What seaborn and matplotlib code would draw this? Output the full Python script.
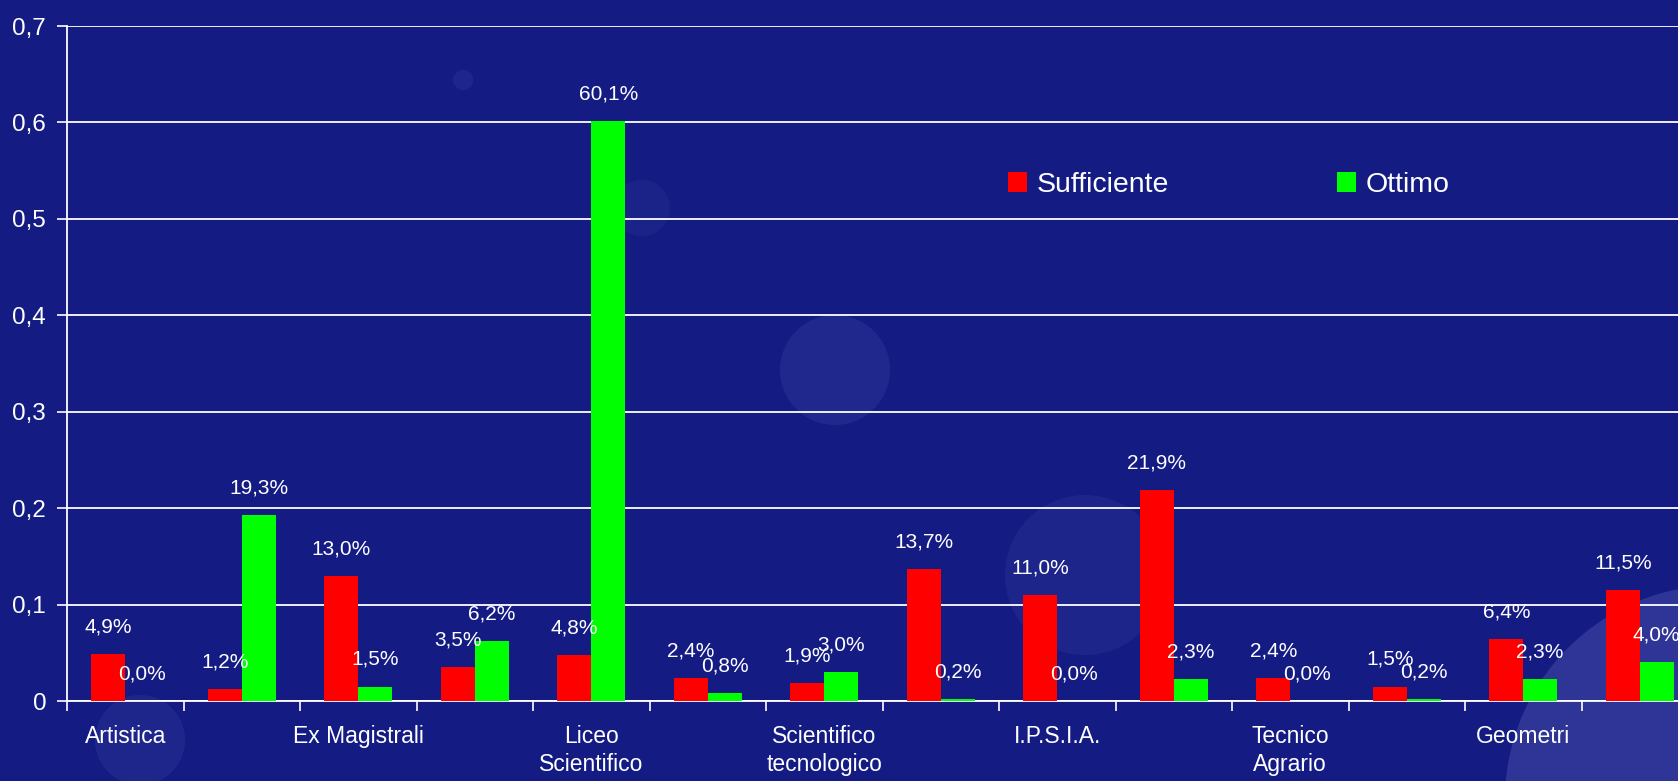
import matplotlib
matplotlib.use("Agg")
import matplotlib.pyplot as plt
import seaborn as sns
import pandas as pd
from matplotlib.patches import Ellipse, Patch

# ---------------- data ----------------
categories = ["Artistica", "Cat 2", "Ex Magistrali", "Cat 4", "Liceo Scientifico", "Cat 6",
              "Scientifico tecnologico", "Cat 8", "I.P.S.I.A.", "Cat 10",
              "Tecnico Agrario", "Cat 12", "Geometri", "Cat 14"]
tick_labels = ["Artistica", "", "Ex Magistrali", "", "Liceo\nScientifico", "",
               "Scientifico\ntecnologico", "", "I.P.S.I.A.", "",
               "Tecnico\nAgrario", "", "Geometri", ""]
sufficiente = [0.049, 0.012, 0.130, 0.035, 0.048, 0.024, 0.019, 0.137, 0.110, 0.219,
               0.024, 0.015, 0.064, 0.115]
ottimo = [0.000, 0.193, 0.015, 0.062, 0.601, 0.008, 0.030, 0.002, 0.000, 0.023,
          0.000, 0.002, 0.023, 0.040]
series_names = ["Sufficiente", "Ottimo"]
y_ticks = [0, 0.1, 0.2, 0.3, 0.4, 0.5, 0.6, 0.7]

BG = "#141C84"
RED = "#FF0000"
GREEN = "#00FF00"

df = pd.DataFrame({
    "cat": categories * 2,
    "val": sufficiente + ottimo,
    "serie": [series_names[0]] * len(categories) + [series_names[1]] * len(categories),
})

sns.set_theme(style="white")
plt.rcParams["font.family"] = ["Liberation Sans", "DejaVu Sans"]

W, H = 1678, 781
fig = plt.figure(figsize=(W / 100, H / 100), dpi=100)
fig.patch.set_facecolor(BG)

# faint decorative bubbles of the slide background
for (cx, cy, r, a) in [(463, 80, 10, 0.10), (642, 208, 28, 0.07), (835, 370, 55, 0.12),
                       (1085, 575, 80, 0.09), (140, 740, 45, 0.10), (1720, 800, 215, 0.25)]:
    fig.patches.append(Ellipse((cx / W, 1 - cy / H), 2 * r / W, 2 * r / H,
                               transform=fig.transFigure, facecolor="#8080D0", alpha=a,
                               edgecolor="none", zorder=0))

left, right, top, bottom = 67, 1698, 26, 701
ax = fig.add_axes([left / W, 1 - bottom / H, (right - left) / W, (bottom - top) / H])
ax.set_facecolor("none")
ax.set_zorder(5)

sns.barplot(data=df, x="cat", y="val", hue="serie", order=categories,
            hue_order=series_names, palette=[RED, GREEN], width=0.58,
            saturation=1, linewidth=0, ax=ax, zorder=3)

ax.set_xlim(-0.5, len(categories) - 0.5)
ax.set_ylim(0, 0.7)
ax.set_xlabel("")
ax.set_ylabel("")

# y axis
ax.set_yticks(y_ticks)
ax.set_yticklabels([("%g" % v).replace(".", ",") for v in y_ticks])
ax.yaxis.grid(True, color="white", linewidth=1.3, zorder=1)
ax.set_axisbelow(True)
ax.tick_params(axis="y", which="major", left=True, length=7, width=1.2, color="white",
               labelcolor="white", labelsize=17.5, pad=8, direction="out")

# x axis: ticks at category boundaries, labels at centers
ax.set_xticks([i - 0.5 for i in range(len(categories) + 1)])
ax.set_xticklabels([])
ax.set_xticks(list(range(len(categories))), minor=True)
ax.set_xticklabels(tick_labels, minor=True, fontsize=16.5, color="white", linespacing=1.3)
ax.tick_params(axis="x", which="major", bottom=True, length=7, width=1.2, color="white",
               direction="out")
ax.tick_params(axis="x", which="minor", bottom=True, length=0, pad=17)

for s in ["top", "right"]:
    ax.spines[s].set_visible(False)
for s in ["left", "bottom"]:
    ax.spines[s].set_color("white")
    ax.spines[s].set_linewidth(1.3)

# value labels
for cont, vals in zip(ax.containers, [sufficiente, ottimo]):
    for bar, v in zip(cont, vals):
        x = bar.get_x() + bar.get_width() / 2
        ax.annotate(("%.1f%%" % (v * 100)).replace(".", ","), (x, v),
                    xytext=(0, 19.5), textcoords="offset points", ha="center",
                    va="center", color="white", fontsize=15, zorder=5)

leg = ax.get_legend()
if leg is not None:
    leg.remove()
handles = [Patch(facecolor=RED, edgecolor="none"), Patch(facecolor=GREEN, edgecolor="none")]
fig.legend(handles, series_names, loc="center left",
           bbox_to_anchor=(1008 / W, 1 - 185 / H), bbox_transform=fig.transFigure,
           ncol=2, frameon=False, fontsize=20.5, labelcolor="white",
           handlelength=0.68, handleheight=0.68, handletextpad=0.33,
           columnspacing=5.9, borderpad=0, borderaxespad=0)

fig.savefig("out.png", dpi=100, facecolor=BG)
